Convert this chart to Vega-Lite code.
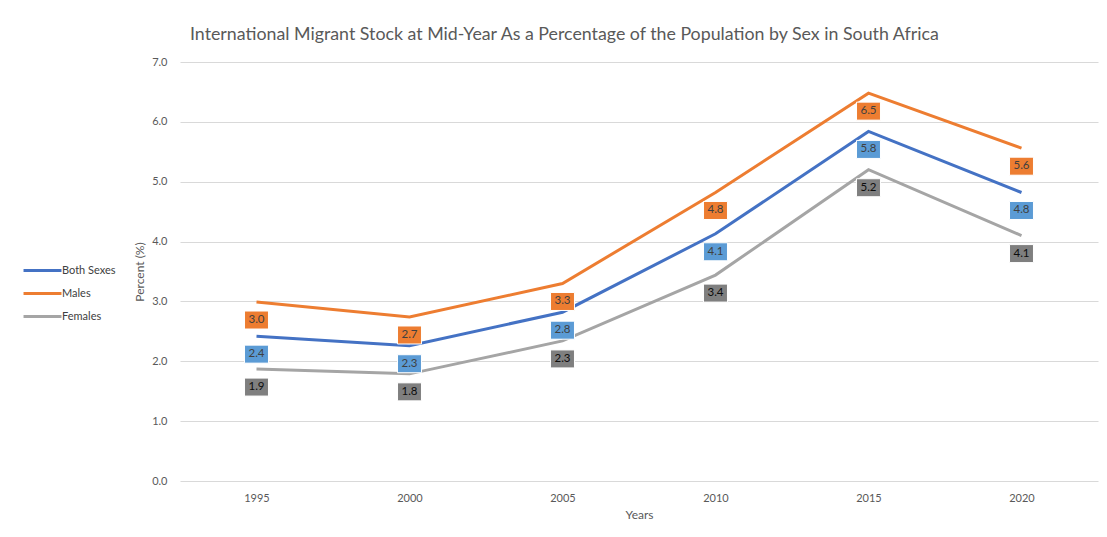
{
  "$schema": "https://vega.github.io/schema/vega-lite/v6.json",
  "width": 918,
  "height": 419,
  "autosize": {"type": "none"},
  "padding": {"left": 180, "top": 62, "right": 9, "bottom": 56},
  "background": "white",
  "config": {
    "font": "Lato",
    "view": {"stroke": null},
    "axis": {"labelColor": "#595959", "titleColor": "#595959", "labelFontSize": 11, "titleFontSize": 12, "titleFontWeight": "normal", "gridColor": "#d9d9d9", "domain": false, "ticks": false}
  },
  "title": {
    "text": "International Migrant Stock at Mid-Year As a Percentage of the Population by Sex in South Africa",
    "anchor": "start",
    "frame": "group",
    "dx": 10,
    "offset": 12,
    "fontSize": 17.8,
    "fontWeight": "normal",
    "color": "#595959"
  },
  "data": {
    "values": [
      {"year": "1995", "sex": "Both Sexes", "pct": 2.42},
      {"year": "2000", "sex": "Both Sexes", "pct": 2.26},
      {"year": "2005", "sex": "Both Sexes", "pct": 2.82},
      {"year": "2010", "sex": "Both Sexes", "pct": 4.13},
      {"year": "2015", "sex": "Both Sexes", "pct": 5.84},
      {"year": "2020", "sex": "Both Sexes", "pct": 4.82},
      {"year": "1995", "sex": "Males", "pct": 2.99},
      {"year": "2000", "sex": "Males", "pct": 2.74},
      {"year": "2005", "sex": "Males", "pct": 3.3},
      {"year": "2010", "sex": "Males", "pct": 4.82},
      {"year": "2015", "sex": "Males", "pct": 6.48},
      {"year": "2020", "sex": "Males", "pct": 5.56},
      {"year": "1995", "sex": "Females", "pct": 1.87},
      {"year": "2000", "sex": "Females", "pct": 1.79},
      {"year": "2005", "sex": "Females", "pct": 2.34},
      {"year": "2010", "sex": "Females", "pct": 3.44},
      {"year": "2015", "sex": "Females", "pct": 5.2},
      {"year": "2020", "sex": "Females", "pct": 4.1}
    ]
  },
  "encoding": {
    "x": {"field": "year", "type": "ordinal", "scale": {"type": "point", "padding": 0.5}, "axis": {"title": "Years", "labelAngle": 0, "labelPadding": 11, "titlePadding": 6, "grid": false}},
    "y": {"field": "pct", "type": "quantitative", "scale": {"domain": [0, 7]}, "axis": {"title": "Percent (%)", "tickCount": 7, "format": ".1f", "labelPadding": 13, "titlePadding": 5}}
  },
  "layer": [
    {
      "mark": {"type": "line", "strokeWidth": 3},
      "encoding": {
        "color": {
          "field": "sex", "type": "nominal",
          "scale": {"domain": ["Both Sexes", "Males", "Females"], "range": ["#4472C4", "#ED7D31", "#A5A5A5"]},
          "legend": {"title": null, "orient": "none", "legendX": -144, "legendY": 202, "symbolType": "M-4,0L4,0", "symbolSize": 90, "symbolStrokeWidth": 3, "symbolFillColor": "transparent", "labelFontSize": 11, "labelColor": "#404040", "labelOffset": 13, "rowPadding": 10, "padding": 0}
        }
      }
    },
    {
      "mark": {"type": "point", "shape": "M-1.33,-1L1.33,-1L1.33,1L-1.33,1Z", "size": 324, "filled": true, "opacity": 1, "yOffset": 18, "stroke": "white", "strokeWidth": 1},
      "encoding": {
        "fill": {
          "field": "sex", "type": "nominal",
          "scale": {"domain": ["Both Sexes", "Males", "Females"], "range": ["#5B9BD5", "#ED7D31", "#7F7F7F"]},
          "legend": null
        }
      }
    },
    {
      "mark": {"type": "text", "fontSize": 11.5, "yOffset": 18, "baseline": "middle"},
      "encoding": {
        "text": {"field": "pct", "type": "quantitative", "format": ".1f"},
        "color": {"condition": {"test": "datum.sex === 'Females'", "value": "#0d0d0d"}, "value": "#404040"}
      }
    }
  ]
}
